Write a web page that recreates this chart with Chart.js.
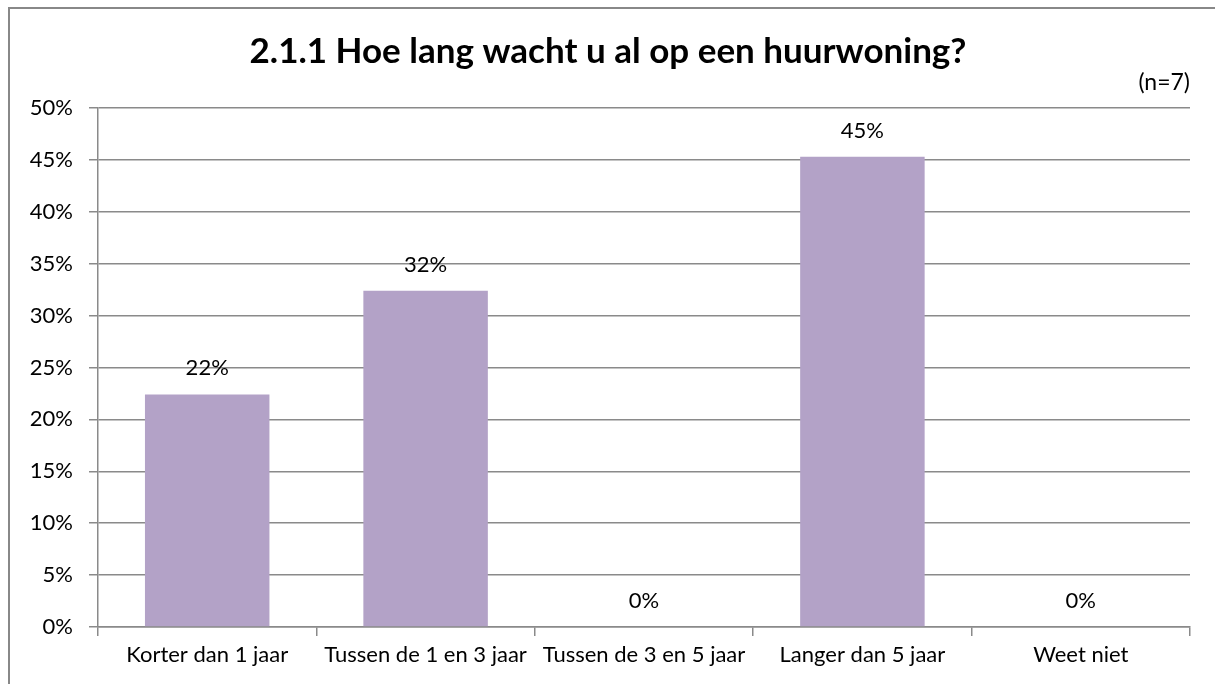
<!DOCTYPE html>
<html>
<head>
<meta charset="utf-8">
<script src="https://cdn.jsdelivr.net/npm/chart.js@4"></script>
<style>
  html, body { margin: 0; padding: 0; background: #fff; }
  #wrap { width: 1215px; height: 684px; }
</style>
</head>
<body>
<div id="wrap"><canvas id="myChart" width="1215" height="684"></canvas></div>
<script>
const categories = ["Korter dan 1 jaar", "Tussen de 1 en 3 jaar", "Tussen de 3 en 5 jaar", "Langer dan 5 jaar", "Weet niet"];
const percentages = [22.4, 32.4, 0, 45.3, 0];
const yTicks = [0, 5, 10, 15, 20, 25, 30, 35, 40, 45, 50];
const chartTitle = "2.1.1 Hoe lang wacht u al op een huurwoning?";
const sampleNote = "(n=7)";

const fontFamily = "Lato, 'Liberation Sans', sans-serif";
const gridColor = "#8a8a8a";

// value labels above each bar
const valueLabels = {
  id: "valueLabels",
  afterDatasetsDraw(chart) {
    const { ctx } = chart;
    const meta = chart.getDatasetMeta(0);
    ctx.save();
    ctx.font = `22px ${fontFamily}`;
    ctx.fillStyle = "#000";
    ctx.textAlign = "center";
    ctx.textBaseline = "alphabetic";
    meta.data.forEach((bar, i) => {
      ctx.fillText(`${Math.round(percentages[i])}%`, bar.x, bar.y - 19);
    });
    ctx.restore();
  },
};

// frame around the chart (only top and left fall inside the picture)
const frame = {
  id: "frame",
  beforeDraw(chart) {
    const { ctx } = chart;
    ctx.save();
    ctx.strokeStyle = "#888";
    ctx.lineWidth = 2;
    ctx.beginPath();
    ctx.moveTo(9, chart.height + 5);
    ctx.lineTo(9, 8);
    ctx.lineTo(chart.width + 5, 8);
    ctx.stroke();
    ctx.restore();
  },
};

const data = {
  labels: categories,
  datasets: [
    {
      data: percentages,
      backgroundColor: "#B3A2C7",
      borderWidth: 0,
      barPercentage: 0.57,
      categoryPercentage: 1,
    },
  ],
};

const config = {
  type: "bar",
  data,
  options: {
    responsive: false,
    animation: false,
    layout: { padding: { left: 26, right: 25, top: 0, bottom: 0 } },
    plugins: {
      legend: { display: false },
      tooltip: { enabled: false },
      title: {
        display: true,
        text: chartTitle,
        color: "#000",
        font: { family: fontFamily, size: 35, weight: "bold", lineHeight: 1.0 },
        padding: { top: 34, bottom: 0 },
      },
      subtitle: {
        display: true,
        text: sampleNote,
        align: "end",
        color: "#000",
        font: { family: fontFamily, size: 23, lineHeight: 1.0 },
        padding: { top: 2, bottom: 14 },
      },
    },
    scales: {
      x: {
        offset: true,
        grid: {
          offset: true,
          drawOnChartArea: false,
          drawTicks: true,
          tickLength: 9,
          color: gridColor,
          lineWidth: 1.5,
        },
        border: { display: true, color: gridColor, width: 1.5 },
        ticks: {
          color: "#000",
          font: { family: fontFamily, size: 22 },
          padding: 6,
          maxRotation: 0,
          autoSkip: false,
        },
        afterFit(scale) { scale.height = 57; },
      },
      y: {
        min: 0,
        max: 50,
        afterBuildTicks(scale) { scale.ticks = yTicks.map((v) => ({ value: v })); },
        grid: {
          color: gridColor,
          lineWidth: 1.5,
          drawTicks: true,
          tickLength: 9,
        },
        border: { display: true, color: gridColor, width: 1.5 },
        ticks: {
          color: "#000",
          font: { family: fontFamily, size: 22 },
          padding: 16,
          callback: (v) => `${v}%`,
        },
        afterFit(scale) { scale.width = 72; },
      },
    },
  },
  plugins: [frame, valueLabels],
};

new Chart(document.getElementById("myChart"), config);
</script>
</body>
</html>
